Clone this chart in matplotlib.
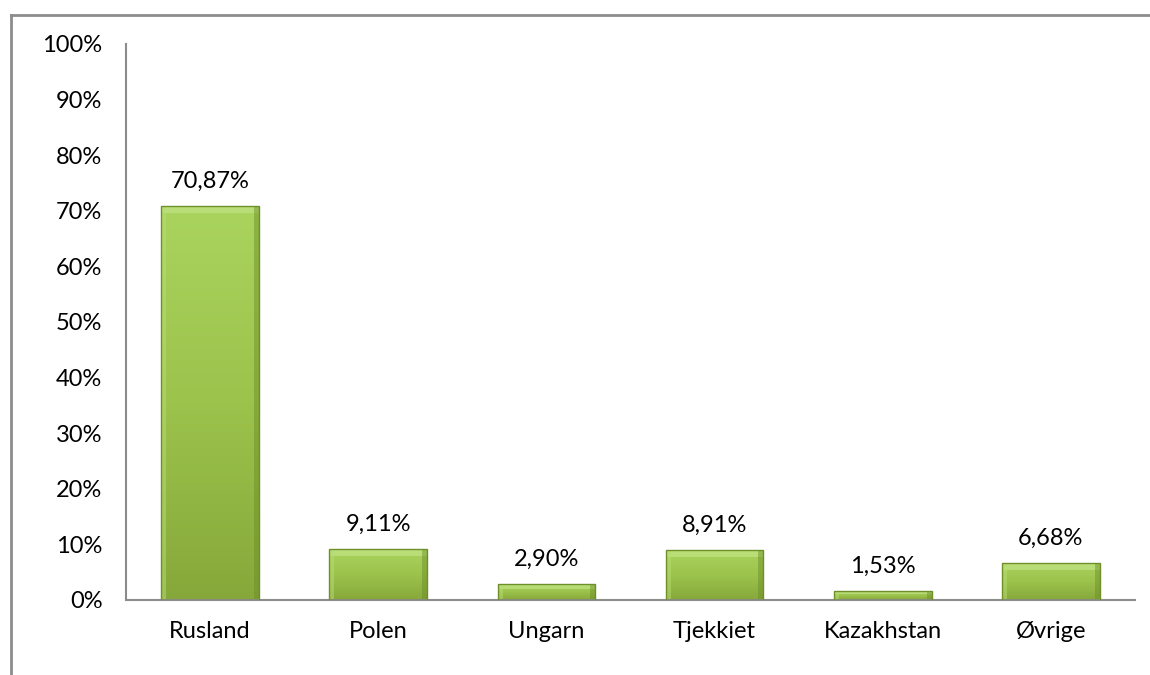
import numpy as np
import matplotlib
matplotlib.use('Agg')
import matplotlib.pyplot as plt
from matplotlib.colors import LinearSegmentedColormap
from matplotlib.lines import Line2D

# --- Data ---
lande = ['Rusland', 'Polen', 'Ungarn', 'Tjekkiet', 'Kazakhstan', 'Øvrige']
andele = [70.87, 9.11, 2.90, 8.91, 1.53, 6.68]
etiketter = ['70,87%', '9,11%', '2,90%', '8,91%', '1,53%', '6,68%']
yticks = [0, 10, 20, 30, 40, 50, 60, 70, 80, 90, 100]

plt.rcParams['font.family'] = ['Lato', 'DejaVu Sans']
fs = 17

fig = plt.figure(figsize=(11.5, 6.75), dpi=100)
ax = fig.add_axes([126 / 1150, 1 - 600 / 675, (1135 - 126) / 1150, (600 - 44) / 675])

# outer chart frame (only top and left visible)
fig.add_artist(Line2D([11 / 1150, 11 / 1150], [0, 1 - 15 / 675], transform=fig.transFigure,
                      color='#8c8c8c', lw=2))
fig.add_artist(Line2D([11 / 1150, 1], [1 - 15 / 675, 1 - 15 / 675], transform=fig.transFigure,
                      color='#8c8c8c', lw=2))

x = np.arange(len(lande))
bredde = 0.58
cmap = LinearSegmentedColormap.from_list('groen', ['#a9d45e', '#9cc34c', '#86a83a'])
gradient = np.linspace(0, 1, 256).reshape(-1, 1)

bars = ax.bar(x, andele, width=bredde, color='none', edgecolor='#6f8f28', linewidth=1.0, zorder=3)
for b in bars:
    x0, y0 = b.get_x(), b.get_y()
    w, h = b.get_width(), b.get_height()
    im = ax.imshow(gradient, cmap=cmap, aspect='auto', origin='upper',
                   extent=[x0, x0 + w, y0, y0 + h], zorder=2, interpolation='bicubic')
    im.set_clip_path(b)
    # bevel: light top and left, dark right
    ax.fill_between([x0, x0 + w], y0 + h - min(1.2, h * 0.3), y0 + h,
                    color='#c6e78c', alpha=0.6, zorder=2.5, linewidth=0)
    ax.fill_between([x0, x0 + w * 0.05], y0, y0 + h, color='#b8dc74', alpha=0.5,
                    zorder=2.5, linewidth=0)
    ax.fill_between([x0 + w * 0.95, x0 + w], y0, y0 + h, color='#6b8a25', alpha=0.45,
                    zorder=2.5, linewidth=0)

for xi, v, lab in zip(x, andele, etiketter):
    ax.text(xi, v + 2.6, lab, ha='center', va='bottom', fontsize=fs, color='black')

ax.set_xlim(-0.5, len(lande) - 0.5)
ax.set_ylim(0, 100)
ax.set_yticks(yticks)
ax.set_yticklabels([f'{t}%' for t in yticks], fontsize=fs)
ax.set_xticks(x)
ax.set_xticklabels(lande, fontsize=fs)
ax.tick_params(axis='both', length=0)
ax.tick_params(axis='y', pad=17)
ax.tick_params(axis='x', pad=15)

for s in ['top', 'right']:
    ax.spines[s].set_visible(False)
ax.spines['left'].set_color('#8c8c8c')
ax.spines['bottom'].set_color('#8c8c8c')
ax.spines['left'].set_linewidth(1.5)
ax.spines['bottom'].set_linewidth(1.5)

fig.savefig('out.png', dpi=100)
